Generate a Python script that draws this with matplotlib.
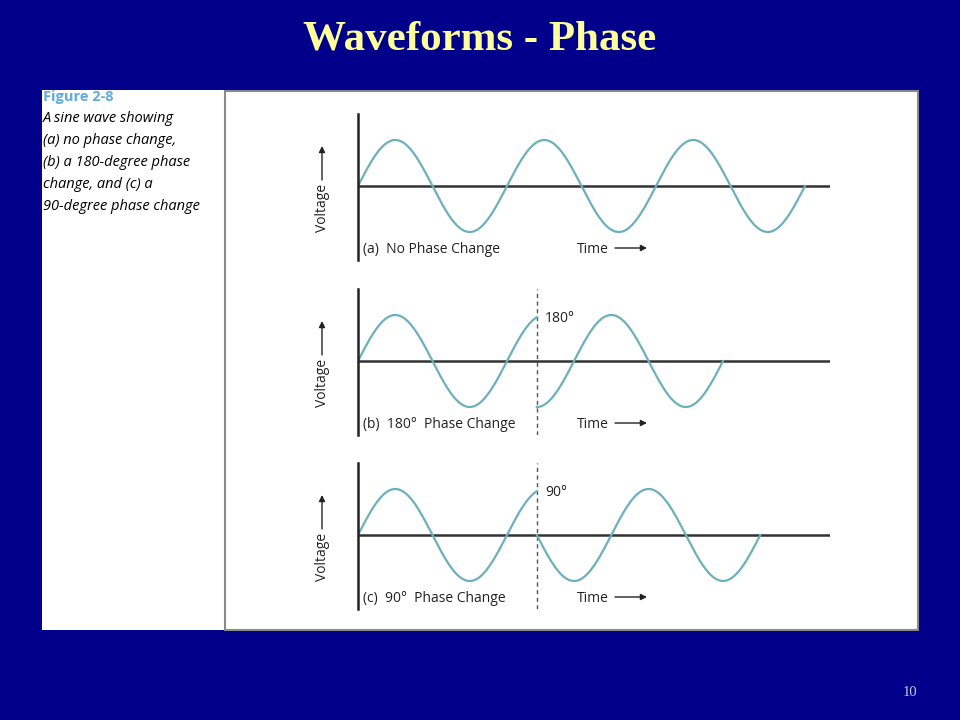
import numpy as np
import matplotlib
matplotlib.use("Agg")
import matplotlib.pyplot as plt
from matplotlib.patches import Rectangle

# --- chart content -------------------------------------------------------
title = "Waveforms - Phase"
page_no = "10"
caption_head = "Figure 2-8"
caption_lines = ["A sine wave showing",
                 "(a) no phase change,",
                 "(b) a 180-degree phase",
                 "change, and (c) a",
                 "90-degree phase change"]

panel_labels = ["(a)  No Phase Change", "(b)  180°  Phase Change", "(c)  90°  Phase Change"]
phase_shift_deg = [0, 180, 90]          # phase jump per panel
shift_at = [None, 1.2, 1.2]             # where the jump happens (cycles)
cycles_after = [None, 1.25, 1.5]        # cycles drawn after the jump
cycles_plain = 3.0                      # cycles drawn in panel (a)
shift_labels = [None, "180°", "90°"]

# --- layout (pixels of a 960x720 slide) ---------------------------------
W, H = 960, 720
BG = "#00008a"
WAVE = "#6cb0be"
X0, X1 = 358, 830          # y-axis line and end of time axis
PERIOD = 149.0             # px per cycle
AMP = 46.0                 # px per unit voltage
zero_y = [186, 361, 535]
UP, DOWN = 72, 74

def fx(px):
    return px / W

def fy(py):
    return 1 - py / H

fig = plt.figure(figsize=(9.6, 7.2), dpi=100, facecolor=BG)

# white areas (behind the axes)
fig.patches.append(Rectangle((fx(42), fy(630)), fx(225) - fx(42), fy(90) - fy(630),
                             transform=fig.transFigure, facecolor="white", edgecolor="none", zorder=-2))
fig.patches.append(Rectangle((fx(225), fy(630)), fx(918) - fx(225), fy(91) - fy(630),
                             transform=fig.transFigure, facecolor="white", edgecolor="#8a8a8a",
                             linewidth=1.5, zorder=-1))

fig.text(0.5, fy(40), title, ha="center", va="center", color="#ffff99",
         fontsize=31, fontweight="bold", family="Liberation Serif")
fig.text(fx(910), fy(693), page_no, ha="center", va="center", color="#c8c8f0",
         fontsize=10.5, family="Liberation Serif")

fig.text(fx(43), fy(97), caption_head, ha="left", va="center", color="#62a9dc",
         fontsize=10.5, fontweight="bold", family="Open Sans")
for i, line in enumerate(caption_lines):
    fig.text(fx(43), fy(118 + 22 * i), line, ha="left", va="center", color="black",
             fontsize=10.5, style="italic", family="Open Sans")

lab_font = dict(family="Open Sans", fontsize=10, color="#222222")

for i in range(3):
    z = zero_y[i]
    ax = fig.add_axes([fx(X0), fy(z + DOWN), fx(X1) - fx(X0), fy(z - UP) - fy(z + DOWN)])
    ax.set_xlim(0, (X1 - X0) / PERIOD)
    ax.set_ylim(-DOWN / AMP, UP / AMP)
    ax.patch.set_alpha(0)
    for s in ["top", "right", "bottom"]:
        ax.spines[s].set_visible(False)
    ax.spines["left"].set_linewidth(1.8)
    ax.spines["left"].set_color("#222222")
    ax.set_xticks([])
    ax.set_yticks([])
    ax.axhline(0, color="#333333", lw=1.8, zorder=1)

    if shift_at[i] is None:
        t = np.linspace(0, cycles_plain, 600)
        ax.plot(t, np.sin(2 * np.pi * t), color=WAVE, lw=1.6, zorder=2)
    else:
        ts = shift_at[i]
        t1 = np.linspace(0, ts, 300)
        ax.plot(t1, np.sin(2 * np.pi * t1), color=WAVE, lw=1.6, zorder=2)
        t2 = np.linspace(ts, ts + cycles_after[i], 300)
        ph = np.deg2rad(90 + phase_shift_deg[i])
        ax.plot(t2, np.sin(2 * np.pi * (t2 - ts) + ph), color=WAVE, lw=1.6, zorder=2)
        ax.axvline(ts, color="#555555", lw=1.0, dashes=(3, 2.5), zorder=1)
        ax.text(ts + 0.055, 43 / AMP, shift_labels[i], ha="left", va="center", **lab_font)

    ax.text(0.034, -63 / AMP, panel_labels[i], ha="left", va="center", **lab_font)
    ax.text((577 - X0) / PERIOD, -63 / AMP, "Time", ha="left", va="center", **lab_font)
    ax.annotate("", xy=((647 - X0) / PERIOD, -62 / AMP), xytext=((615 - X0) / PERIOD, -62 / AMP),
                arrowprops=dict(arrowstyle="-|>", color="#222222", lw=1.0,
                                mutation_scale=9, shrinkA=0, shrinkB=0),
                annotation_clip=False)
    ax.text(-36 / PERIOD, -22 / AMP, "Voltage", ha="center", va="center", rotation=90,
            clip_on=False, **lab_font)
    ax.annotate("", xy=(-36 / PERIOD, 40 / AMP), xytext=(-36 / PERIOD, 6 / AMP),
                arrowprops=dict(arrowstyle="-|>", color="#222222", lw=1.0,
                                mutation_scale=9, shrinkA=0, shrinkB=0),
                annotation_clip=False)

fig.savefig("out.png", dpi=100, facecolor=BG)
